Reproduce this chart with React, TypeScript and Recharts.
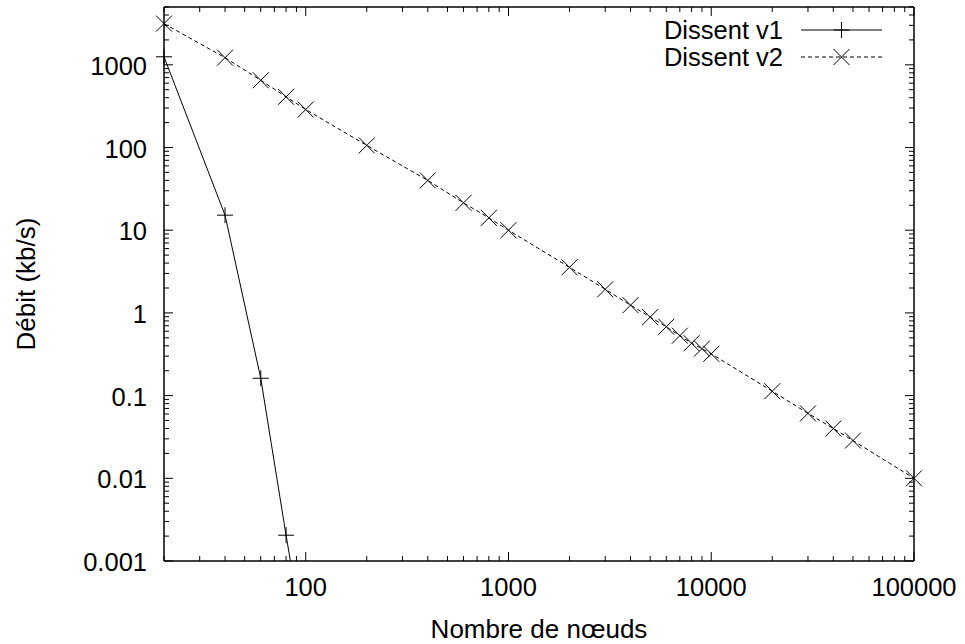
import React from 'react';
import { LineChart, Line, XAxis, YAxis, Legend } from 'recharts';

const FONT = '"Liberation Sans", Arial, Helvetica, sans-serif';
const TICK_SIZE = 25.5;
const TITLE_SIZE = 26;
const LEGEND_SIZE = 25.5;

// Dissent v1 (solid, "+")
const v1Nodes = [20, 40, 60, 80, 100];
const v1Rate = [1250, 15.2, 0.162, 0.00205, 0.00008];

// Dissent v2 (dashed, "x")
const v2Nodes = [20, 40, 60, 80, 100, 200, 400, 600, 800, 1000, 2000, 3000, 4000, 5000, 6000, 7000, 8000, 9000, 10000, 20000, 30000, 40000, 50000, 100000];
const v2Rate = [3150, 1220, 650, 410, 288, 106, 40, 21.4, 14.1, 10, 3.56, 1.93, 1.24, 0.89, 0.68, 0.53, 0.43, 0.37, 0.32, 0.113, 0.061, 0.04, 0.0286, 0.01];

const xDomain = [20, 100000];
const yDomain = [0.001, 5000];
const xMajorTicks = [100, 1000, 10000, 100000];
const xTickLabels = ['100', '1000', '10000', '100000'];
const yMajorTicks = [0.001, 0.01, 0.1, 1, 10, 100, 1000];
const yTickLabels = ['0.001', '0.01', '0.1', '1', '10', '100', '1000'];

const seriesNames = ['Dissent v1', 'Dissent v2'];

const v1Data = v1Nodes.map((n, i) => ({ nodes: n, rate: v1Rate[i] }));
const v2Data = v2Nodes.map((n, i) => ({ nodes: n, rate: v2Rate[i] }));
// markers are drawn unclipped (like gnuplot), so only the ones inside the range
const v1Marks = v1Data.filter((d) => d.rate >= yDomain[0] && d.rate <= yDomain[1]);

// all decade multiples (1..9 x 10^k) inside the domain, for major + minor ticks
const logTicks = (lo: number, hi: number) => {
  const out: number[] = [];
  for (let e = Math.floor(Math.log10(lo)); e <= Math.ceil(Math.log10(hi)); e++) {
    for (let m = 1; m <= 9; m++) {
      const v = Number((m * Math.pow(10, e)).toPrecision(6));
      if (v >= lo - 1e-12 && v <= hi + 1e-9) out.push(v);
    }
  }
  return out;
};
const xTicks = logTicks(xDomain[0], xDomain[1]);
const yTicks = logTicks(yDomain[0], yDomain[1]);

const isMajor = (list: number[], v: number) => list.findIndex((t) => Math.abs(t - v) / t < 1e-6);

const textStyle = { fontFamily: FONT, fill: '#000' };

const BottomTick = ({ x, y, payload }: any) => {
  const i = isMajor(xMajorTicks, payload.value);
  return (
    <g>
      <line x1={x} x2={x} y1={y} y2={y - (i >= 0 ? 9 : 5)} stroke="#000" />
      {i >= 0 && (
        <text x={x} y={y + 35} textAnchor="middle" fontSize={TICK_SIZE} {...textStyle}>{xTickLabels[i]}</text>
      )}
    </g>
  );
};

const TopTick = ({ x, y, payload }: any) => {
  const i = isMajor(xMajorTicks, payload.value);
  return <line x1={x} x2={x} y1={y} y2={y + (i >= 0 ? 9 : 5)} stroke="#000" />;
};

const LeftTick = ({ x, y, payload }: any) => {
  const i = isMajor(yMajorTicks, payload.value);
  return (
    <g>
      <line x1={x} x2={x + (i >= 0 ? 9 : 5)} y1={y} y2={y} stroke="#000" />
      {i >= 0 && (
        <text x={x - 17} y={y + 10} textAnchor="end" fontSize={TICK_SIZE} {...textStyle}>{yTickLabels[i]}</text>
      )}
    </g>
  );
};

const RightTick = ({ x, y, payload }: any) => {
  const i = isMajor(yMajorTicks, payload.value);
  return <line x1={x} x2={x - (i >= 0 ? 9 : 5)} y1={y} y2={y} stroke="#000" />;
};

const plusPath = (cx: number, cy: number, r: number) =>
  `M${cx - r},${cy}H${cx + r}M${cx},${cy - r}V${cy + r}`;
const crossPath = (cx: number, cy: number, r: number) =>
  `M${cx - r},${cy - r}L${cx + r},${cy + r}M${cx - r},${cy + r}L${cx + r},${cy - r}`;

const PlusDot = (props: any) => {
  const { cx, cy, index } = props;
  if (cx == null || cy == null) return <g key={index} />;
  return <path key={index} d={plusPath(cx, cy, 8)} stroke="#000" strokeWidth={1} fill="none" />;
};

const CrossDot = (props: any) => {
  const { cx, cy, index } = props;
  if (cx == null || cy == null) return <g key={index} />;
  return <path key={index} d={crossPath(cx, cy, 8)} stroke="#000" strokeWidth={1} fill="none" />;
};

const XTitle = ({ viewBox }: any) => {
  const vb = viewBox || { x: 164, y: 561, width: 750, height: 83 };
  return (
    <text x={vb.x + vb.width / 2} y={vb.y + 77} textAnchor="middle" fontSize={TITLE_SIZE} {...textStyle}>
      Nombre de nœuds
    </text>
  );
};

const YTitle = ({ viewBox }: any) => {
  const vb = viewBox || { x: 0, y: 7, width: 164, height: 554 };
  const cx = vb.x + 35;
  const cy = vb.y + vb.height / 2;
  return (
    <text x={cx} y={cy} textAnchor="middle" transform={`rotate(-90 ${cx} ${cy})`} fontSize={TITLE_SIZE} {...textStyle}>
      Débit (kb/s)
    </text>
  );
};

const LegendBox = () => {
  const rows = [
    { name: seriesNames[0], dash: undefined, mark: plusPath(40.5, 10, 8), top: 17 },
    { name: seriesNames[1], dash: '4 3', mark: crossPath(40.5, 10, 8), top: 44 },
  ];
  return (
    <div style={{ position: 'relative', width: 260, height: 80, fontFamily: FONT, fontSize: LEGEND_SIZE, color: '#000' }}>
      {rows.map((r) => (
        <div key={r.name} style={{ position: 'absolute', left: 0, top: r.top, display: 'flex', alignItems: 'center', height: 26 }}>
          <span style={{ width: 143, textAlign: 'right', lineHeight: '26px', whiteSpace: 'nowrap' }}>{r.name}</span>
          <svg width={81} height={20} style={{ marginLeft: 18, display: 'block' }}>
            <line x1={0} x2={81} y1={10} y2={10} stroke="#000" strokeDasharray={r.dash} />
            <path d={r.mark} stroke="#000" fill="none" />
          </svg>
        </div>
      ))}
    </div>
  );
};

const axisLine = { stroke: '#000', strokeWidth: 1.5 };

export default function App() {
  return (
    <div style={{ position: 'absolute', left: 0, top: 0, background: '#fff' }}>
      <LineChart width={965} height={644} margin={{ top: 0, right: 0, bottom: 0, left: 0 }}>
        {/* bottom/left axes clip (for the v1 line running off the bottom) */}
        <XAxis
          xAxisId="bottom"
          dataKey="nodes"
          type="number"
          scale="log"
          domain={xDomain}
          allowDataOverflow
          ticks={xTicks}
          interval={0}
          height={83}
          tickSize={0}
          tickMargin={0}
          tickLine={false}
          tick={<BottomTick />}
          axisLine={axisLine}
          label={<XTitle />}
        />
        <YAxis
          yAxisId="left"
          dataKey="rate"
          type="number"
          scale="log"
          domain={yDomain}
          allowDataOverflow
          ticks={yTicks}
          interval={0}
          width={164}
          tickSize={0}
          tickMargin={0}
          tickLine={false}
          tick={<LeftTick />}
          axisLine={axisLine}
          label={<YTitle />}
        />
        {/* mirrored top/right axes, same range, no clipping: markers on the border stay whole */}
        <XAxis
          xAxisId="top"
          orientation="top"
          dataKey="nodes"
          type="number"
          scale="log"
          domain={xDomain}
          ticks={xTicks}
          interval={0}
          height={7}
          tickSize={0}
          tickMargin={0}
          tickLine={false}
          tick={<TopTick />}
          axisLine={axisLine}
        />
        <YAxis
          yAxisId="right"
          orientation="right"
          dataKey="rate"
          type="number"
          scale="log"
          domain={yDomain}
          ticks={yTicks}
          interval={0}
          width={51}
          tickSize={0}
          tickMargin={0}
          tickLine={false}
          tick={<RightTick />}
          axisLine={axisLine}
        />
        <Legend
          layout="horizontal"
          align="center"
          verticalAlign="middle"
          content={<LegendBox />}
          wrapperStyle={{ top: 0, left: 640, width: 260, height: 80 }}
        />
        <Line
          xAxisId="bottom"
          yAxisId="left"
          data={v1Data}
          dataKey="rate"
          name={seriesNames[0]}
          stroke="#000"
          strokeWidth={1}
          dot={false}
          activeDot={false}
          isAnimationActive={false}
        />
        <Line
          xAxisId="top"
          yAxisId="right"
          data={v2Data}
          dataKey="rate"
          name={seriesNames[1]}
          stroke="#000"
          strokeWidth={1}
          strokeDasharray="4 3"
          dot={CrossDot}
          activeDot={false}
          isAnimationActive={false}
        />
        <Line
          xAxisId="top"
          yAxisId="right"
          data={v1Marks}
          dataKey="rate"
          name={seriesNames[0] + ' markers'}
          stroke="none"
          dot={PlusDot}
          activeDot={false}
          legendType="none"
          isAnimationActive={false}
        />
      </LineChart>
    </div>
  );
}
